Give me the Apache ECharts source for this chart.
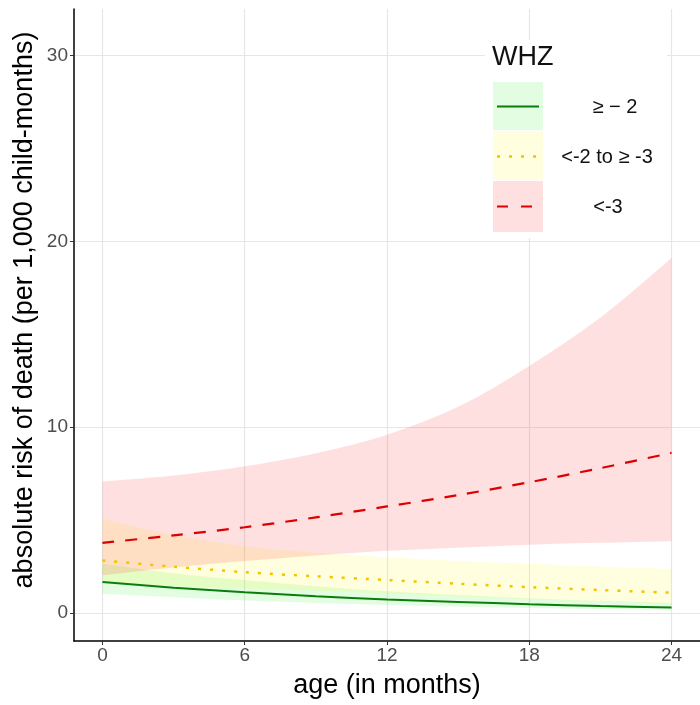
<!DOCTYPE html>
<html>
<head>
<meta charset="utf-8">
<script src="https://cdn.jsdelivr.net/npm/echarts@6/dist/echarts.min.js"></script>
<style>
  html, body { margin: 0; padding: 0; background: #fff; }
  #chart { width: 700px; height: 705px; }
</style>
</head>
<body>
<div id="chart"></div>
<script>
// age in months
var months = [0, 3, 6, 9, 12, 15, 18, 21, 24];
var xTicks = [0, 6, 12, 18, 24];
var yTicks = [0, 10, 20, 30];

// WHZ >= -2
var greenMid = [1.68, 1.37, 1.12, 0.91, 0.73, 0.6, 0.48, 0.38, 0.3];
var greenLo  = [1.04, 0.85, 0.68, 0.54, 0.43, 0.34, 0.27, 0.21, 0.16];
var greenHi  = [2.66, 2.15, 1.78, 1.45, 1.18, 0.98, 0.8, 0.66, 0.55];
// WHZ <-2 to >= -3
var yellowMid = [2.83, 2.5, 2.2, 1.98, 1.78, 1.58, 1.4, 1.24, 1.1];
var yellowLo  = [1.58, 1.45, 1.33, 1.2, 1.05, 0.9, 0.75, 0.62, 0.5];
var yellowHi  = [5.07, 4.2, 3.6, 3.25, 3.0, 2.8, 2.65, 2.5, 2.38];
// WHZ <-3
var redMid = [3.78, 4.18, 4.62, 5.15, 5.74, 6.35, 7.04, 7.8, 8.62];
var redLo  = [2.03, 2.45, 2.8, 3.1, 3.35, 3.52, 3.68, 3.78, 3.87];
var redHi  = [7.08, 7.4, 7.9, 8.6, 9.6, 11.1, 13.3, 15.9, 19.1];

var FONT = 'Liberation Sans, Arial, Helvetica, sans-serif';

var greenFill = 'rgba(0,235,0,0.11)';
var yellowFill = 'rgba(255,250,0,0.13)';
var redFill = 'rgba(255,0,0,0.12)';

function pairs(ys) {
    return months.map(function (m, i) { return [m, ys[i]]; });
}

// catmull-rom -> bezier through pixel points, continuing an open path
function curveTo(pts) {
    var d = '';
    for (var i = 0; i < pts.length - 1; i++) {
        var p0 = pts[Math.max(i - 1, 0)], p1 = pts[i], p2 = pts[i + 1], p3 = pts[Math.min(i + 2, pts.length - 1)];
        var c1 = [p1[0] + (p2[0] - p0[0]) / 6, p1[1] + (p2[1] - p0[1]) / 6];
        var c2 = [p2[0] - (p3[0] - p1[0]) / 6, p2[1] - (p3[1] - p1[1]) / 6];
        d += ' C' + c1[0] + ' ' + c1[1] + ' ' + c2[0] + ' ' + c2[1] + ' ' + p2[0] + ' ' + p2[1];
    }
    return d;
}

// ribbon: upper edge left->right then lower edge back
function band(name, lo, hi, color) {
    var rows = months.map(function (m, i) { return [m, lo[i], hi[i]]; });
    return {
        name: name, type: 'custom', data: rows, silent: true, z: 1,
        encode: {x: 0, y: [1, 2]},
        renderItem: function (params, api) {
            if (params.dataIndex !== 0) return null;
            var up = rows.map(function (r) { return api.coord([r[0], r[2]]); });
            var dn = rows.slice().reverse().map(function (r) { return api.coord([r[0], r[1]]); });
            var d = 'M' + up[0][0] + ' ' + up[0][1] + curveTo(up) +
                ' L' + dn[0][0] + ' ' + dn[0][1] + curveTo(dn) + ' Z';
            return {type: 'path', shape: {pathData: d}, style: {fill: color}};
        }
    };
}

var chart = echarts.init(document.getElementById('chart'));

var series = [
    band('green', greenLo, greenHi, greenFill),
    band('yellow', yellowLo, yellowHi, yellowFill),
    band('red', redLo, redHi, redFill),
    {
        name: 'greenMid', type: 'line', data: pairs(greenMid), smooth: 0.3, symbol: 'none', z: 5,
        lineStyle: {color: '#0b7d0b', width: 2}
    },
    {
        name: 'yellowMid', type: 'line', data: pairs(yellowMid), smooth: 0.3, symbol: 'none', z: 5,
        lineStyle: {color: '#f2c400', width: 2.5, type: [3, 9], cap: 'butt'}
    },
    {
        name: 'redMid', type: 'line', data: pairs(redMid), smooth: 0.3, symbol: 'none', z: 5,
        lineStyle: {color: '#dc0000', width: 2.2, type: [12, 11]}
    }
];

var option = {
    animation: false,
    backgroundColor: '#fff',
    grid: {left: 74, right: 0, top: 9, bottom: 64},
    xAxis: {
        type: 'value', min: -1.2, max: 25.2,
        name: 'age (in months)', nameLocation: 'middle', nameGap: 31,
        nameTextStyle: {fontFamily: FONT, fontSize: 27, color: '#000'},
        axisLine: {show: true, onZero: false, lineStyle: {color: '#000', width: 1.5}},
        axisTick: {show: true, length: 4, customValues: xTicks, lineStyle: {color: '#333', width: 1}},
        axisLabel: {customValues: xTicks, fontFamily: FONT, fontSize: 19, color: '#4d4d4d', margin: 5},
        splitLine: {show: true, lineStyle: {color: '#e6e6e6', width: 1.2}}
    },
    yAxis: {
        type: 'value', min: -1.5, max: 32.5,
        name: 'absolute risk of death (per 1,000 child-months)', nameLocation: 'middle',
        nameGap: 36, nameMoveOverlap: false,
        nameTextStyle: {fontFamily: FONT, fontSize: 27, color: '#000', padding: [0, 0, 0, 30]},
        axisLine: {show: true, onZero: false, lineStyle: {color: '#000', width: 1.5}},
        axisTick: {show: true, length: 4, customValues: yTicks, lineStyle: {color: '#333', width: 1}},
        axisLabel: {customValues: yTicks, fontFamily: FONT, fontSize: 19, color: '#4d4d4d', margin: 6},
        splitLine: {show: true, lineStyle: {color: '#e6e6e6', width: 1.2}}
    },
    series: series,
    graphic: [
        {type: 'rect', shape: {x: 485, y: 40, width: 182, height: 198}, style: {fill: '#fff'}, z: 50},
        {type: 'text', x: 492, y: 58, z: 51,
            style: {text: 'WHZ', fontFamily: FONT, fontSize: 27, fill: '#111', verticalAlign: 'middle'}},
        {type: 'rect', shape: {x: 493, y: 82, width: 50, height: 48}, style: {fill: greenFill}, z: 51},
        {type: 'rect', shape: {x: 493, y: 131, width: 50, height: 49}, style: {fill: yellowFill}, z: 51},
        {type: 'rect', shape: {x: 493, y: 181, width: 50, height: 51}, style: {fill: redFill}, z: 51},
        {type: 'line', shape: {x1: 497, y1: 106.5, x2: 539, y2: 106.5}, style: {stroke: '#0b7d0b', lineWidth: 2.2}, z: 52},
        {type: 'line', shape: {x1: 497, y1: 156.5, x2: 539, y2: 156.5}, style: {stroke: '#f2c400', lineWidth: 2.5, lineDash: [3, 9]}, z: 52},
        {type: 'line', shape: {x1: 497, y1: 206.5, x2: 539, y2: 206.5}, style: {stroke: '#dc0000', lineWidth: 2.2, lineDash: [11, 13]}, z: 52},
        {type: 'text', x: 615, y: 107, z: 52,
            style: {text: '\u2265 \u2212 2', fontFamily: FONT, fontSize: 20, fill: '#111', align: 'center', verticalAlign: 'middle'}},
        {type: 'text', x: 607, y: 157, z: 52,
            style: {text: '<-2 to \u2265 -3', fontFamily: FONT, fontSize: 20, fill: '#111', align: 'center', verticalAlign: 'middle'}},
        {type: 'text', x: 608, y: 207, z: 52,
            style: {text: '<-3', fontFamily: FONT, fontSize: 20, fill: '#111', align: 'center', verticalAlign: 'middle'}}
    ]
};

chart.setOption(option);
</script>
</body>
</html>
